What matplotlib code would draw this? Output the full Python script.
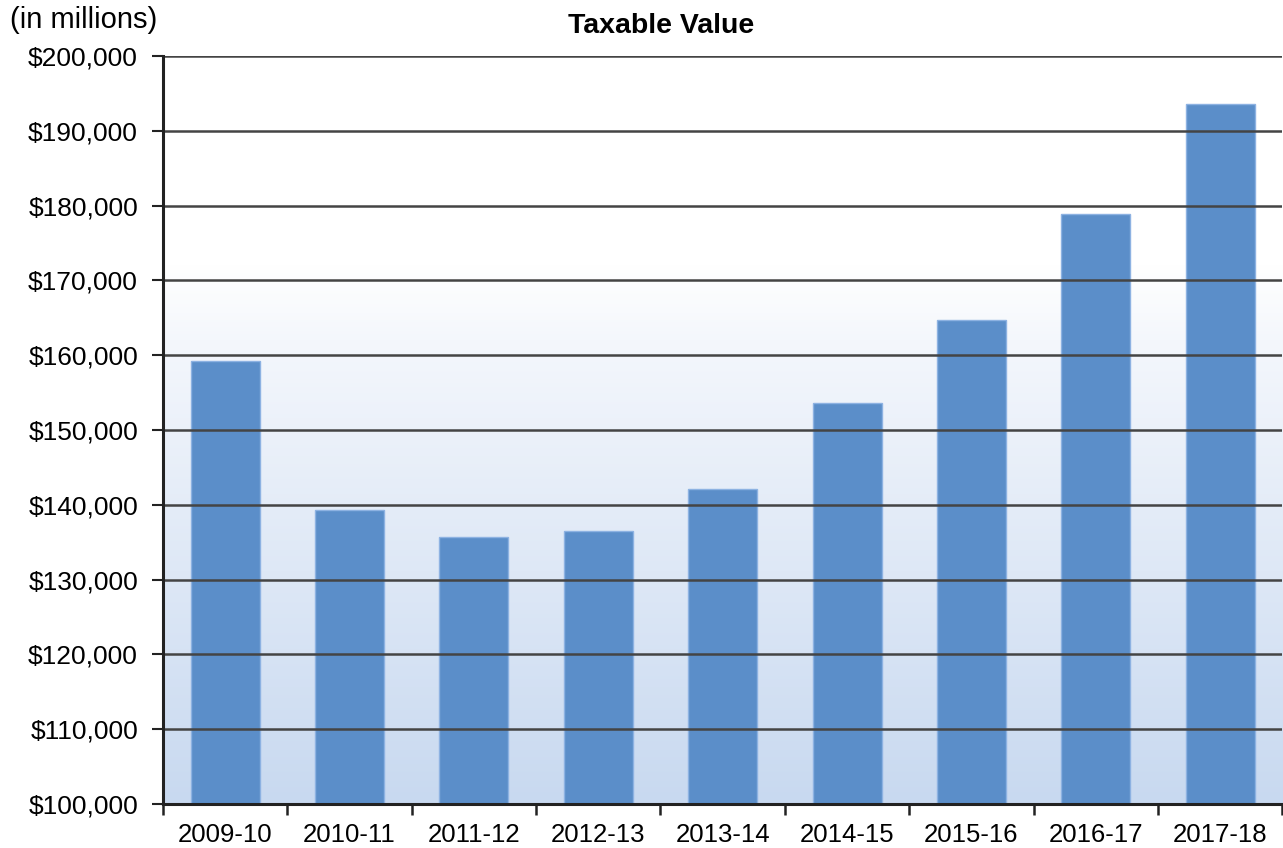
import matplotlib
matplotlib.use("Agg")
import matplotlib.pyplot as plt
import numpy as np
from matplotlib.colors import LinearSegmentedColormap
from matplotlib.ticker import FuncFormatter, FixedLocator

plt.rcParams['font.family'] = ['Liberation Sans', 'DejaVu Sans']

categories = ['2009-10', '2010-11', '2011-12', '2012-13', '2013-14',
              '2014-15', '2015-16', '2016-17', '2017-18']
values = [159200, 139300, 135700, 136500, 142100, 153600, 164700, 178900, 193600]
yticks = list(range(100000, 200001, 10000))

fig = plt.figure(figsize=(12.83, 8.48), dpi=100)
ax = fig.add_axes([163/1283, 1-804/848, 1-163/1283 - 0.0005, (804-56)/848])

x = np.arange(len(categories))
ax.set_xlim(-0.5, len(categories) - 0.5)
ax.set_ylim(100000, 200000)

# background gradient: white at top, light blue at bottom
cmap = LinearSegmentedColormap.from_list('bg', [(0.0, '#c8d9f0'), (0.62, '#f4f7fc'), (0.72, '#ffffff'), (1.0, '#ffffff')])
grad = np.linspace(0, 1, 256).reshape(-1, 1)
ax.imshow(grad, aspect='auto', cmap=cmap, origin='lower',
          extent=[-0.5, len(categories) - 0.5, 100000, 200000], zorder=0)

ax.set_yticks(yticks)
ax.yaxis.grid(True, color='#444444', linewidth=1.8, zorder=1)
ax.set_axisbelow(False)
ax.bar(x, values, width=0.555, color='#5b8ec9', edgecolor='#8db2e2', linewidth=1.0, zorder=2)

ax.yaxis.set_major_formatter(FuncFormatter(lambda v, p: f'${v:,.0f}'))
ax.tick_params(axis='y', length=8, width=1.5, color='#222222', labelsize=19, pad=10, direction='out')

ax.set_xticks(x)
ax.set_xticklabels(categories)
ax.tick_params(axis='x', which='major', length=0, labelsize=18.5, pad=14)
ax.xaxis.set_minor_locator(FixedLocator(np.arange(-0.5, len(categories), 1.0)))
ax.tick_params(axis='x', which='minor', length=8, width=1.8, color='#222222', direction='out')

for s in ['top', 'right']:
    ax.spines[s].set_visible(False)
ax.spines['left'].set_linewidth(2.2)
ax.spines['left'].set_color('#222222')
ax.spines['bottom'].set_linewidth(2.2)
ax.spines['bottom'].set_color('#222222')
ax.spines['left'].set_zorder(3)
ax.spines['bottom'].set_zorder(3)

fig.text(661/1283, 1-26/848, 'Taxable Value', ha='center', va='center', fontsize=20.5, fontweight='bold')
fig.text(10/1283, 1-20/848, '(in millions)', ha='left', va='center', fontsize=21)

fig.savefig('out.png', dpi=100)
